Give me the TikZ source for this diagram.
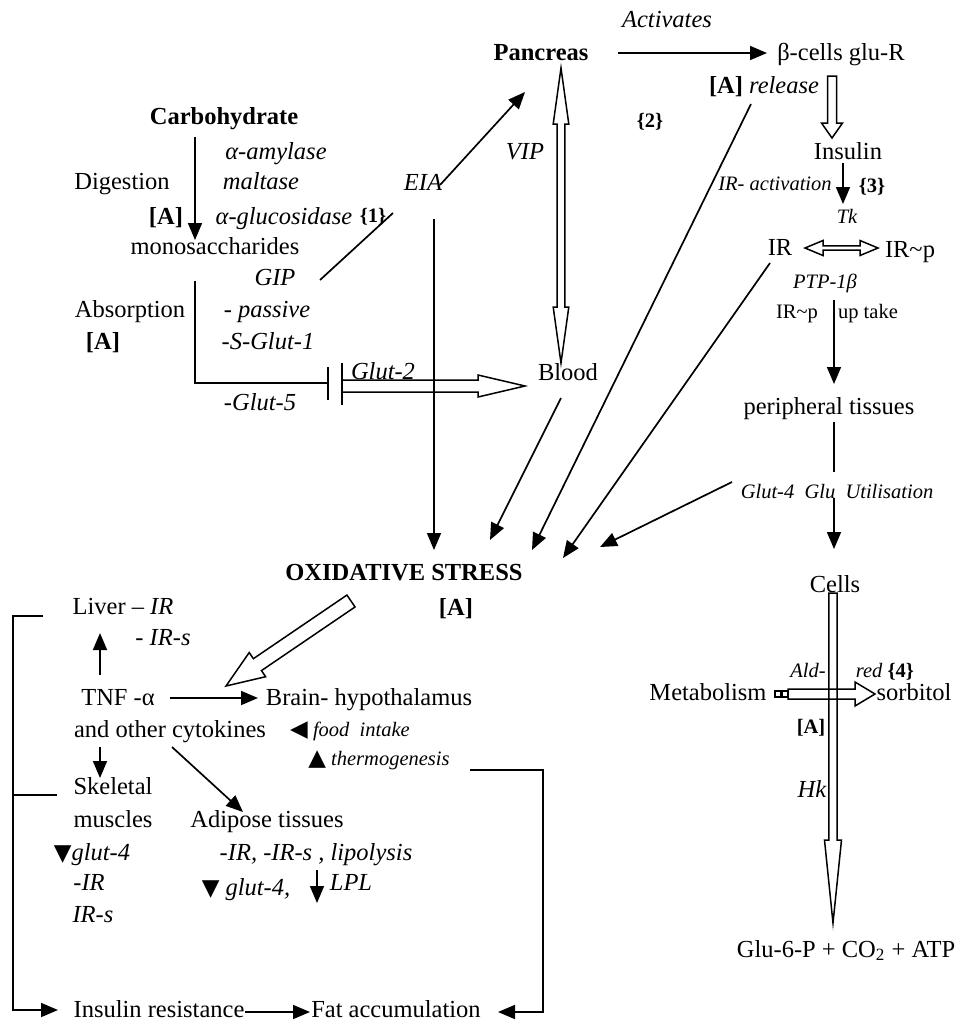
\documentclass[tikz,border=0pt]{standalone}
\usepackage{fontspec}
\setmainfont{Liberation Serif}
\newfontfamily\symfont{DejaVu Sans}
\usetikzlibrary{arrows.meta,calc}
\newcommand{\mainsize}{\fontsize{12.25pt}{14pt}\selectfont}
\newcommand{\smallsize}{\fontsize{10.25pt}{12pt}\selectfont}
\newcommand{\tri}[1]{{\symfont\fontsize{11.5pt}{12pt}\selectfont #1}}
\tikzstyle{Lbl}=[inner sep=1pt, font=\mainsize, text height=8.5pt, text depth=1.5pt]
\tikzstyle{BoldLbl}=[Lbl, font=\mainsize\bfseries]
\tikzstyle{ItLbl}=[Lbl, font=\mainsize\itshape]
\tikzstyle{SmallLbl}=[Lbl, font=\smallsize, text height=7pt, text depth=1.2pt]
\tikzstyle{SmallIt}=[SmallLbl, font=\smallsize\itshape]
\tikzstyle{SmallBold}=[SmallLbl, font=\smallsize\bfseries]
\tikzstyle{Edge}=[line width=0.85pt]
\tikzstyle{Flow}=[Edge, ->]
\tikzstyle{HollowEdge}=[line width=0.75pt, line join=miter]
\tikzset{>={Triangle[length=8.5pt,width=7pt]}}
% #1 from, #2 to, #3 half shaft, #4 half head, #5 head length
\newcommand{\HollowArrow}[5]{%
  \coordinate (hb) at ($(#2)!#5!(#1)$);
  \draw[HollowEdge] ($(#1)!#3!90:(#2)$) -- ($(hb)!#3!90:(#2)$) -- ($(hb)!#4!90:(#2)$) -- (#2)
    -- ($(hb)!#4!-90:(#2)$) -- ($(hb)!#3!-90:(#2)$) -- ($(#1)!#3!-90:(#2)$) -- cycle;}
\newcommand{\HollowDouble}[5]{%
  \coordinate (ha) at ($(#1)!#5!(#2)$);
  \coordinate (hb) at ($(#2)!#5!(#1)$);
  \draw[HollowEdge] (#1) -- ($(ha)!#4!90:(#2)$) -- ($(ha)!#3!90:(#2)$) -- ($(hb)!#3!90:(#2)$)
    -- ($(hb)!#4!90:(#2)$) -- (#2) -- ($(hb)!#4!-90:(#2)$) -- ($(hb)!#3!-90:(#2)$)
    -- ($(ha)!#3!-90:(#2)$) -- ($(ha)!#4!-90:(#2)$) -- cycle;}

\begin{document}
\begin{tikzpicture}[x=0.5pt, y=-0.5pt]
\useasboundingbox (0,0) rectangle (961,1025);

\node[ItLbl](act) at (667,20) {Activates};
\node[BoldLbl](pan) at (541,53) {Pancreas};
\node[Lbl](beta) at (841,53) {β-cells glu-R};
\node[Lbl](rel) at (764,86) {\textbf{[A]} \textit{release}};
\node[SmallBold](two) at (650,122) {\{2\}};
\node[ItLbl](vip) at (525,152) {VIP};
\node[Lbl](ins) at (848,152) {Insulin};
\node[SmallIt](iract) at (775,185) {IR- activation};
\node[SmallBold](three) at (872,187) {\{3\}};
\node[SmallIt](tk) at (847,218) {Tk};
\node[Lbl](ir) at (780,248) {IR};
\node[Lbl](irp) at (910,250) {IR\textasciitilde p};
\node[SmallIt](ptp) at (825,283) {PTP-1β};
\node[SmallLbl](irp2) at (797,313) {IR\textasciitilde p};
\node[SmallLbl](upt) at (868,313) {up take};
\node[Lbl](peri) at (829,407) {peripheral tissues};
\node[SmallIt](utl) at (837,493) {Glut-4\ \ Glu\ \ Utilisation};
\node[Lbl](cells) at (835,585) {Cells};

\node[BoldLbl](carb) at (224,117) {Carbohydrate};
\node[ItLbl](amyl) at (276,152) {α-amylase};
\node[Lbl](dig) at (122,182) {Digestion};
\node[ItLbl](malt) at (261,182) {maltase};
\node[BoldLbl](aDig) at (166,217) {[A]};
\node[ItLbl](gluc) at (284,217) {α-glucosidase};
\node[SmallBold](one) at (373,217) {\{1\}};
\node[Lbl](mono) at (215,247) {monosaccharides};
\node[ItLbl](gip) at (275,278) {GIP};
\node[ItLbl](eia) at (423,183) {EIA};
\node[Lbl](abs) at (130,310) {Absorption};
\node[BoldLbl](aAbs) at (103,342) {[A]};
\node[ItLbl](pass) at (267,310) {- passive};
\node[ItLbl](sglut) at (268,342) {-S-Glut-1};
\node[ItLbl](gl2) at (383,372) {Glut-2};
\node[ItLbl](gl5) at (260,403) {-Glut-5};
\node[Lbl](blood) at (568,373) {Blood};

\node[BoldLbl](os) at (404,573) {OXIDATIVE STRESS};
\node[BoldLbl](aOs) at (456,608) {[A]};

\node[Lbl](liver) at (123,607) {Liver – \textit{IR}};
\node[ItLbl](livs) at (163,638) {- IR-s};
\node[Lbl](tnf) at (118,698) {TNF -α};
\node[Lbl](brain) at (369,698) {Brain- hypothalamus};
\node[Lbl](cyto) at (170,730) {and other cytokines};
\node[SmallIt](food) at (350,731) {\tri{◀} food\ \ intake};
\node[SmallIt](thermo) at (379,760) {\tri{▲} thermogenesis};
\node[Lbl](skel) at (113,787) {Skeletal};
\node[Lbl](musc) at (113,820) {muscles};
\node[Lbl](adip) at (267,820) {Adipose tissues};
\node[ItLbl](mglut) at (92,853) {\tri{▼}glut-4};
\node[ItLbl](mir) at (89,883) {-IR};
\node[ItLbl](mirs) at (93,915) {IR-s};
\node[ItLbl](lipo) at (316,853) {-IR, -IR-s , lipolysis};
\node[ItLbl](aglut) at (246,888) {\tri{▼} glut-4,};
\node[ItLbl](lpl) at (351,883) {LPL};
\node[Lbl](insres) at (159,1010) {Insulin resistance};
\node[Lbl](fat) at (396,1010) {Fat accumulation};

\node[SmallIt](ald) at (808,672) {Ald-};
\node[SmallLbl](red) at (885,672) {\textit{red} \textbf{\{4\}}};
\node[Lbl](metab) at (708,693) {Metabolism};
\node[Lbl](sorb) at (914,693) {sorbitol};
\node[SmallBold](aMet) at (811,728) {[A]};
\node[ItLbl](hk) at (812,790) {Hk};
\node[Lbl](prod) at (846,950) {Glu-6-P + CO\textsubscript{2} + ATP};

\coordinate (panE) at (618,53);
\coordinate (betaW) at (767,53);
\coordinate (betaS) at (832,76);
\coordinate (insN) at (832,138);
\coordinate (panS) at (561,68);
\coordinate (bloodN) at (561,363);
\coordinate (insS) at (843,163);
\coordinate (tkN) at (843,204);
\coordinate (irE) at (805,248);
\coordinate (irpW) at (878,248);
\coordinate (uptN) at (834,300);
\coordinate (periN) at (834,384);
\coordinate (periS) at (834,422);
\coordinate (utlN) at (834,472);
\coordinate (utlS) at (834,498);
\coordinate (cellsN) at (834,549);
\coordinate (cellsS) at (833,593);
\coordinate (prodN) at (833,923);
\coordinate (metE) at (788,694);
\coordinate (sorbW) at (875,694);
\coordinate (relS) at (751,104);
\coordinate (osR1) at (532,550);
\coordinate (irS) at (770,263);
\coordinate (osR2) at (563,558);
\coordinate (utlW) at (732,482);
\coordinate (osR3) at (600,547);
\coordinate (bloodS) at (561,398);
\coordinate (osN2) at (490,540);
\coordinate (eiaS) at (434,219);
\coordinate (osN1) at (434,550);
\coordinate (gipE) at (320,280);
\coordinate (eiaSW) at (393,213);
\coordinate (eiaE) at (440,185);
\coordinate (panSW) at (525,92);
\coordinate (carbS) at (195,137);
\coordinate (monoN) at (195,240);
\coordinate (monoS) at (195,281);
\coordinate (barA) at (328,383);
\coordinate (g2W) at (342,386);
\coordinate (bloodW) at (525,386);
\coordinate (osSW) at (351,601);
\coordinate (tnfNE) at (226,686);
\coordinate (tnfN) at (100,675);
\coordinate (liverS) at (100,633);
\coordinate (tnfE) at (170,698);
\coordinate (brainW) at (258,698);
\coordinate (cytoS) at (100,747);
\coordinate (skelN) at (100,778);
\coordinate (cytoSE) at (172,747);
\coordinate (adipN) at (243,812);
\coordinate (lplT) at (317,870);
\coordinate (lplB) at (317,903);
\coordinate (brT) at (43,616);
\coordinate (brX) at (13,616);
\coordinate (brM) at (57,795);
\coordinate (brB) at (58,1010);
\coordinate (insresE) at (245,1012);
\coordinate (fatW) at (310,1012);
\coordinate (thermoE) at (470,770);
\coordinate (thX) at (543,770);
\coordinate (fatE) at (498,1012);

\draw[Flow](panE) -- (betaW);
\HollowArrow{betaS}{insN}{2.25pt}{5.25pt}{7.5pt}
\HollowDouble{panS}{bloodN}{1.9pt}{3.9pt}{28pt}
\draw[Flow](insS) -- (tkN);
\HollowDouble{irE}{irpW}{1.1pt}{3.75pt}{9pt}
\draw[Flow](uptN) -- (periN);
\draw[Edge](periS) -- (utlN);
\draw[Flow](utlS) -- (cellsN);
\HollowArrow{cellsS}{prodN}{2.1pt}{4.25pt}{41.5pt}
\HollowArrow{metE}{sorbW}{2.5pt}{6pt}{10pt}
\draw[HollowEdge]($(metE)+(-13,-3)$) rectangle ++(6,6) ($(metE)+(-6,-3)$) rectangle ++(6,6);

\draw[Flow](relS) -- (osR1);
\draw[Flow](irS) -- (osR2);
\draw[Flow](utlW) -- (osR3);
\draw[Flow](bloodS) -- (osN2);
\draw[Flow](eiaS) -- (osN1);
\draw[Edge](gipE) -- (eiaSW);
\draw[Flow](eiaE) -- (panSW);

\draw[Flow](carbS) -- (monoN);
\draw[Edge](monoS) |- (barA);
\draw[Edge]($(barA)+(0,-16)$) -- ($(barA)+(0,17)$);
\draw[Edge]($(g2W)+(0,-23)$) -- ($(g2W)+(0,19)$);
\HollowArrow{g2W}{bloodW}{3pt}{5.5pt}{23.5pt}

\HollowArrow{osSW}{tnfNE}{3.6pt}{7.3pt}{19pt}
\draw[Flow](tnfN) -- (liverS);
\draw[Flow](tnfE) -- (brainW);
\draw[Flow](cytoS) -- (skelN);
\draw[Flow](cytoSE) -- (adipN);
\draw[Flow](lplT) -- (lplB);

\draw[Flow](brT) -- (brX) |- (brB);
\draw[Edge](brM) -- (brM -| brX);
\draw[Flow](insresE) -- (fatW);
\draw[Flow](thermoE) -- (thX) |- (fatE);
\end{tikzpicture}
\end{document}
